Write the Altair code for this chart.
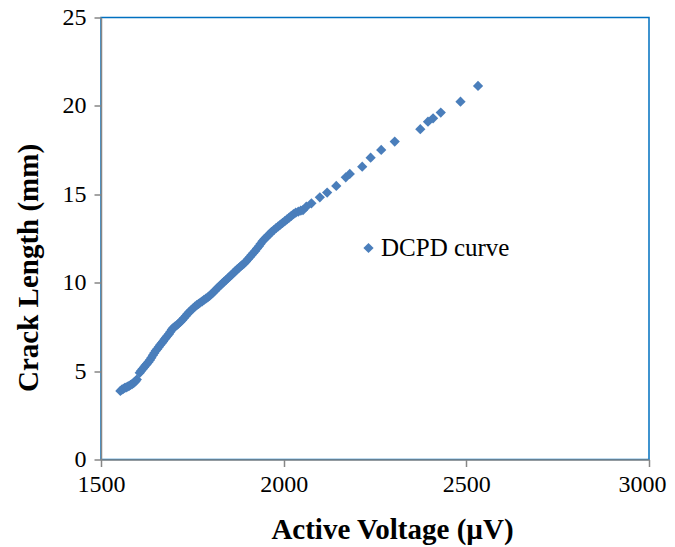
import altair as alt
import pandas as pd

# Active voltage (µV) and crack length (mm)
voltage = [
    1553, 1557, 1561, 1565, 1569, 1573, 1577, 1581, 1585, 1589, 1592, 1595, 1598,
    1606, 1610, 1614, 1618, 1622, 1626, 1630, 1634, 1638, 1642, 1646, 1650, 1654,
    1658, 1662, 1666, 1670, 1674, 1678, 1682, 1686, 1690, 1694, 1698, 1702, 1707,
    1712, 1717, 1722, 1727, 1732, 1737, 1742, 1747, 1752, 1757, 1762, 1767, 1772,
    1777, 1782, 1787, 1792, 1797, 1802, 1807, 1812, 1817, 1822, 1827, 1832, 1837,
    1842, 1847, 1852, 1857, 1862, 1867, 1872, 1877, 1882, 1887, 1892, 1897, 1902,
    1907, 1912, 1917, 1922, 1927, 1932, 1937, 1942, 1947, 1952, 1957, 1962, 1967,
    1973, 1979, 1985, 1991, 1997, 2003, 2009, 2015, 2021, 2027, 2033, 2040, 2047,
    2053, 2062, 2076, 2099, 2119, 2144, 2170, 2181, 2215, 2238, 2267, 2304, 2374,
    2395, 2409, 2430, 2484, 2532,
]
crack_length = [
    3.88, 3.95, 4.00, 4.05, 4.08, 4.12, 4.17, 4.22, 4.27, 4.32, 4.38, 4.44, 4.52,
    4.90, 5.02, 5.12, 5.22, 5.33, 5.42, 5.52, 5.63, 5.76, 5.90, 6.03, 6.15, 6.25,
    6.36, 6.48, 6.58, 6.68, 6.80, 6.90, 7.00, 7.10, 7.22, 7.35, 7.45, 7.52, 7.58,
    7.68, 7.78, 7.88, 8.00, 8.12, 8.24, 8.35, 8.45, 8.55, 8.64, 8.73, 8.80, 8.88,
    8.95, 9.03, 9.10, 9.17, 9.25, 9.35, 9.45, 9.55, 9.66, 9.76, 9.86, 9.96, 10.06,
    10.15, 10.24, 10.34, 10.44, 10.54, 10.64, 10.74, 10.83, 10.92, 11.01, 11.10, 11.20, 11.32,
    11.44, 11.56, 11.68, 11.80, 11.93, 12.06, 12.20, 12.34, 12.46, 12.56, 12.66, 12.76, 12.88,
    12.98, 13.08, 13.18, 13.28, 13.38, 13.48, 13.58, 13.68, 13.78, 13.88, 13.96, 14.02, 14.08,
    14.11, 14.30, 14.49, 14.83, 15.10, 15.47, 15.96, 16.15, 16.56, 17.07, 17.51, 17.98, 18.68,
    19.11, 19.30, 19.62, 20.24, 21.13,
]
series_name = "DCPD curve"
x_ticks = [1500, 2000, 2500, 3000]
y_ticks = [0, 5, 10, 15, 20, 25]

df = pd.DataFrame({
    "voltage": voltage,
    "crack": crack_length,
    "series": [series_name] * len(voltage),
})

FONT = "Liberation Serif"
GRAY = "#868686"

chart = alt.Chart(df).mark_point(
    shape="diamond", filled=True, size=105, opacity=1
).encode(
    x=alt.X(
        "voltage:Q",
        scale=alt.Scale(domain=[1500, 3000], nice=False, zero=False),
        axis=alt.Axis(
            values=x_ticks, format="d", title="Active Voltage (µV)", grid=False,
            domainColor=GRAY, domainWidth=1.5, tickColor=GRAY, tickWidth=1.5, tickSize=7,
            labelFont=FONT, labelFontSize=24, labelColor="black", labelPadding=6,
            labelFlush=False,
            labelOffset={"condition": {"test": "datum.value == 3000", "value": -7}, "value": 0},
            titleFont=FONT, titleFontSize=29, titleFontWeight="bold", titleColor="black",
            titleBaseline="alphabetic", titleAlign="center", titleX=291, titleY=79,
        ),
    ),
    y=alt.Y(
        "crack:Q",
        scale=alt.Scale(domain=[0, 25], nice=False),
        axis=alt.Axis(
            values=y_ticks, title="Crack Length (mm)", grid=False,
            domainColor=GRAY, domainWidth=1.5, tickColor=GRAY, tickWidth=1.5, tickSize=7,
            labelFont=FONT, labelFontSize=24, labelColor="black", labelPadding=8,
            labelFlush=False,
            titleFont=FONT, titleFontSize=29, titleFontWeight="bold", titleColor="black",
            titleAngle=270, titleBaseline="alphabetic", titleAlign="center",
            titleX=-64, titleY=250,
        ),
    ),
    color=alt.Color(
        "series:N",
        scale=alt.Scale(range=["#4A7EBB"]),
        legend=alt.Legend(
            title=None, orient="none", legendX=255, legendY=218,
            symbolType="diamond", symbolSize=105, symbolStrokeWidth=0,
            labelFont=FONT, labelFontSize=25, labelColor="black", labelOffset=0,
            padding=0,
        ),
    ),
).properties(
    width=548, height=442,
    autosize=alt.AutoSizeParams(type="none"),
    padding={"left": 93, "top": 9.5, "right": 18, "bottom": 87.5},
).configure_view(
    stroke="#0070C0", strokeWidth=1.5
).configure_legend(
    labelFont=FONT, labelFontSize=25, labelColor="black"
)

chart.save("out.html", embed_options={"renderer": "svg", "actions": False})
